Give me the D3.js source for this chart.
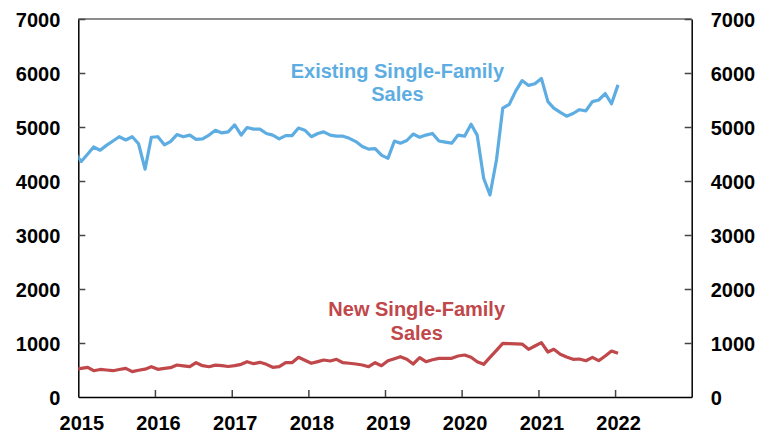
<!DOCTYPE html>
<html>
<head>
<meta charset="utf-8">
<script src="https://cdn.jsdelivr.net/npm/d3@7"></script>
<style>
  body { margin: 0; background: #fff; }
  svg { display: block; font-family: "Liberation Sans", Arial, Helvetica, sans-serif; }
  .axis text { font-size: 20px; font-weight: bold; fill: #000; }
  .axis .tick line { stroke: #444; stroke-width: 1.5; }
  .axis path.domain { stroke: #000; stroke-width: 1.5; }
  .label { font-size: 20px; font-weight: bold; text-anchor: middle; }
</style>
</head>
<body>
<div id="graph"></div>
<script>
// monthly data, Dec 2014 .. Jan 2022 (thousands, SAAR)
var startYear = 2014, startMonth = 11;

var existingSales = [4530,
  4360, 4500, 4630, 4570, 4660, 4740, 4820, 4760, 4820, 4690, 4220, 4810,
  4820, 4670, 4730, 4860, 4820, 4850, 4770, 4780, 4850, 4940, 4890, 4910,
  5040, 4850, 4990, 4960, 4960, 4880, 4850, 4780, 4840, 4840, 4980, 4940,
  4820, 4880, 4910, 4850, 4830, 4830, 4790, 4730, 4640, 4590, 4600, 4480,
  4420, 4740, 4700, 4750, 4870, 4810, 4850, 4880, 4740, 4720, 4700, 4850,
  4830, 5050, 4850, 4050, 3740, 4390, 5350, 5420, 5670, 5860, 5770, 5800,
  5900, 5470, 5350, 5270, 5200, 5250, 5320, 5300, 5470, 5500, 5620, 5430,
  5780];

var newSales = [510,
  530, 550, 487, 510, 500, 487, 510, 531, 469, 495, 515, 561,
  513, 530, 543, 593, 577, 561, 635, 580, 561, 590, 580, 565,
  580, 605, 654, 617, 642, 605, 550, 561, 635, 635, 735, 680,
  624, 655, 685, 667, 698, 635, 625, 611, 593, 561, 635, 580,
  672, 710, 746, 698, 611, 728, 654, 690, 716, 716, 716, 759,
  778, 735, 654, 605, 735, 865, 994, 990, 985, 981, 883, 945,
  1006, 833, 883, 790, 740, 698, 704, 672, 735, 672, 760, 852,
  809];

var yTicks = [0, 1000, 2000, 3000, 4000, 5000, 6000, 7000];
var yearTicks = [2015, 2016, 2017, 2018, 2019, 2020, 2021, 2022];

var seriesInfo = [
  {id: "existing", values: existingSales, color: "#5dade2",
   label: ["Existing Single-Family", "Sales"], lx: new Date(2019, 2, 1), ly: [5910, 5475]},
  {id: "new", values: newSales, color: "#c0474a",
   label: ["New Single-Family", "Sales"], lx: new Date(2019, 5, 1), ly: [1500, 1055]}
];

var W = 758, H = 433,
    margin = {top: 19, right: 66.3, bottom: 36, left: 78.3},
    width = W - margin.left - margin.right,
    height = H - margin.top - margin.bottom;

var svg = d3.select("#graph").append("svg")
    .attr("width", W)
    .attr("height", H);

var g = svg.append("g").attr("transform", "translate(" + margin.left + "," + margin.top + ")");

var x = d3.scaleTime()
    .domain([new Date(2015, 0, 1), new Date(2023, 0, 1)])
    .range([0, width]);
var y = d3.scaleLinear().domain([0, 7000]).range([height, 0]);

function monthDate(i) {
  return new Date(startYear, startMonth + i, 15);
}

svg.append("defs").append("clipPath").attr("id", "plot-clip")
  .append("rect").attr("width", width).attr("height", height);

// top border
g.append("line")
    .attr("x1", 0).attr("x2", width)
    .attr("y1", 0).attr("y2", 0)
    .attr("stroke", "#666").attr("stroke-width", 1.5);

g.append("g")
    .attr("class", "axis axis--x")
    .attr("transform", "translate(0," + height + ")")
    .call(d3.axisBottom(x)
      .tickValues(yearTicks.map(function(yr) { return new Date(yr, 0, 1); }))
      .tickFormat(d3.timeFormat("%Y"))
      .tickSizeInner(-7).tickSizeOuter(0).tickPadding(19))
  .selectAll("text").attr("dx", 3);

g.append("g")
    .attr("class", "axis axis--y")
    .call(d3.axisLeft(y).tickValues(yTicks).tickFormat(d3.format("d"))
      .tickSizeInner(-7).tickSizeOuter(0).tickPadding(18))
  .selectAll("text").attr("dy", "0.36em");

g.append("g")
    .attr("class", "axis axis--y2")
    .attr("transform", "translate(" + width + ",0)")
    .call(d3.axisRight(y).tickValues(yTicks).tickFormat(d3.format("d"))
      .tickSizeInner(-7).tickSizeOuter(0).tickPadding(19))
  .selectAll("text").attr("dy", "0.36em");

g.selectAll(".axis .tick line").filter(function(d) { return d === 0 || +d === +new Date(2015, 0, 1); }).remove();

var line = d3.line()
    .x(function(d, i) { return x(monthDate(i)); })
    .y(function(d) { return y(d); });

var series = g.selectAll(".series")
    .data(seriesInfo)
    .enter().append("g")
    .attr("class", "series");

series.append("path")
    .attr("clip-path", "url(#plot-clip)")
    .attr("fill", "none")
    .attr("stroke-width", 3.2)
    .attr("stroke-linejoin", "round")
    .style("stroke", function(d) { return d.color; })
    .attr("d", function(d) { return line(d.values); });

series.each(function(d) {
  var s = d3.select(this);
  d.label.forEach(function(t, k) {
    s.append("text")
        .attr("class", "label")
        .attr("x", x(d.lx))
        .attr("y", y(d.ly[k]))
        .attr("fill", d.color)
        .text(t);
  });
});
</script>
</body>
</html>
